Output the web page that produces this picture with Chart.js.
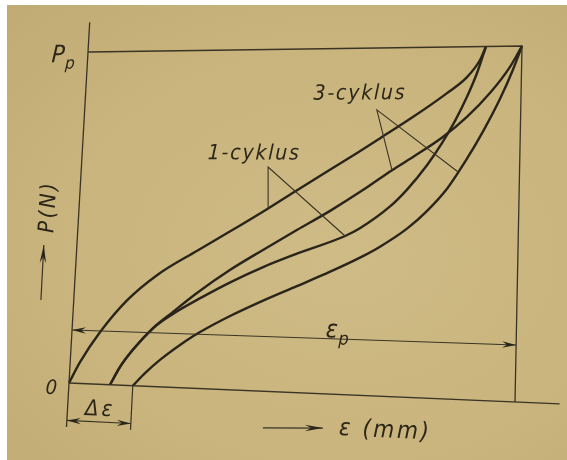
<!DOCTYPE html>
<html>
<head>
<meta charset="utf-8">
<script src="https://cdn.jsdelivr.net/npm/chart.js@4.4.1/dist/chart.umd.min.js"></script>
<style>
  html, body { margin: 0; padding: 0; background: #fff; }
  #wrap { position: relative; width: 567px; height: 460px; overflow: hidden; }
  #paper { position: absolute; left: 7px; top: 5px; right: 0; bottom: 0;
           background: radial-gradient(ellipse at 60% 55%, #cfbb86 0%, #c9b47d 60%, #c1ab74 100%); }
  #chart { position: absolute; left: 0; top: 0; }
</style>
</head>
<body>
<div id="wrap"><div id="paper"></div><canvas id="chart" width="567" height="460"></canvas></div>
<script>
// Hodnoty odčítané z obrázka: ε v % z εp, P v % z Pp
var epsP = 100, pP = 100, deltaEps = 14.3;

// 1. cyklus - zaťaženie a odľahčenie
var load1Eps = [0, 2.2, 6.3, 12.0, 18.7, 27.3, 34.6, 42.9, 49.4, 62.8, 67.9, 75.3, 83.0, 87.5, 90.4, 91.7];
var load1P   = [0, 6.4, 15.6, 25.4, 33.4, 40.7, 46.6, 53.4, 58.9, 69.8, 74.0, 80.1, 86.9, 91.4, 96.2, 100];
var unload1Eps = [91.7, 89.8, 87.6, 85.0, 82.1, 78.8, 74.4, 70.7, 64.0, 60.7, 49.9, 42.4, 35.1, 28.5, 22.5, 18.2, 13.9, 11.2, 9.2];
var unload1P   = [100, 92.6, 85.8, 79.0, 72.6, 66.3, 59.3, 54.5, 48.1, 45.8, 40.4, 36.3, 31.6, 26.7, 21.8, 17.4, 10.7, 5.4, 0];

// 3. cyklus
var load3Eps = [9.2, 11.2, 13.9, 18.2, 22.5, 27.7, 34.9, 42.2, 49.7, 57.1, 64.4, 70.9, 75.6, 82.3, 87.7, 92.9, 97.3, 100];
var load3P   = [0, 5.4, 10.7, 17.4, 22.4, 28.2, 35.2, 41.3, 47.3, 53.0, 59.1, 64.9, 68.7, 74.4, 80.1, 86.9, 94.1, 100];
var unload3Eps = [100, 98.0, 95.2, 91.5, 87.9, 83.6, 79.1, 74.7, 68.7, 64.9, 57.6, 50.2, 42.7, 35.4, 28.8, 26.0, 20.1, 16.9, 14.3];
var unload3P   = [100, 93.3, 85.2, 76.1, 68.2, 59.8, 53.3, 48.2, 42.9, 40.1, 35.4, 31.0, 26.5, 21.7, 16.7, 14.2, 8.0, 3.9, 0];

function pts(xs, ys) {
    return xs.map(function (x, i) { return { x: x, y: ys[i] }; });
}

var ink = '#2a251b';
var thin = '#3b3425';

function line(data, width, extra) {
    var ds = { data: data, showLine: true, borderColor: thin, borderWidth: width, pointRadius: 0, tension: 0 };
    for (var k in extra) ds[k] = extra[k];
    return ds;
}

function curve(data) {
    return { data: data, showLine: true, borderColor: ink, borderWidth: 2.4, pointRadius: 0,
             cubicInterpolationMode: 'monotone' };
}

var datasets = [
    // osi a rám
    line([{ x: 0, y: -13.3 }, { x: 0, y: 109 }], 1.3),
    line([{ x: 0, y: 0 }, { x: 110, y: 0 }], 1.3),
    line([{ x: 0, y: pP }, { x: epsP, y: pP }, { x: epsP, y: 0 }], 1.3),
    line([{ x: deltaEps, y: 0 }, { x: deltaEps, y: -13.2 }], 1.2),
    // kóty
    line([{ x: 0, y: 16 }, { x: epsP, y: 16 }], 1.1, { arrowHeads: 'both' }),
    line([{ x: 0, y: -11.3 }, { x: deltaEps, y: -11.3 }], 1.1, { arrowHeads: 'both' }),
    line([{ x: 43.8, y: -10.7 }, { x: 57.2, y: -9.9 }], 1.2, { arrowHeads: 'end', headLen: 18 }),
    line([{ x: -7.4, y: 24.8 }, { x: -7.5, y: 41.5 }], 1.2, { arrowHeads: 'end', headLen: 18 }),
    // odkazové čiary
    line([{ x: 43.0, y: 53.4 }, { x: 42.6, y: 65.6 }, { x: 60.7, y: 45.8 }], 1.1),
    line([{ x: 70.9, y: 64.9 }, { x: 67.0, y: 82.2 }, { x: 86.0, y: 64.5 }], 1.1),
    // krivky
    curve(pts(load1Eps, load1P)),
    curve(pts(unload1Eps, unload1P)),
    curve(pts(load3Eps, load3P)),
    curve(pts(unload3Eps, unload3P))
];

var labels = [
    { text: 'P', sub: 'p', x: -5.5, y: 98.9, size: 24, spacing: 1 },
    { text: '0', x: -3.9, y: -2.0, size: 20, spacing: 0 },
    { text: 'Δε', x: 7.3, y: -7.7, size: 22, spacing: 3 },
    { text: 'ε', sub: 'p', x: 59.8, y: 18.3, size: 25, spacing: 1 },
    { text: 'ε (mm)', x: 71.1, y: -9.9, size: 24, spacing: 2.5 },
    { text: 'P(N)', x: -6.8, y: 53.1, size: 22, spacing: 2.5, rotate: true },
    { text: '1-cyklus', x: 39.3, y: 69.4, size: 21, spacing: 1.8 },
    { text: '3-cyklus', x: 63.0, y: 86.8, size: 21, spacing: 1.8 }
];

function font(size) {
    return 'italic ' + size + 'px "DejaVu Sans Condensed", "DejaVu Sans", sans-serif';
}

// fotka je v perspektíve: kam padnú rohy rámu (0,0), (εp,0), (0,Pp), (εp,Pp)
var c00 = [69, 383], c10 = [515, 402], c01 = [88, 52], c11 = [522, 46];
var cD = [c11[0] - c10[0] - c01[0] + c00[0], c11[1] - c10[1] - c01[1] + c00[1]];

function frac(chart, px, py) {
    var sx = chart.scales.x, sy = chart.scales.y;
    var x0 = sx.getPixelForValue(0), y0 = sy.getPixelForValue(0);
    return [(px - x0) / (sx.getPixelForValue(epsP) - x0), (py - y0) / (sy.getPixelForValue(pP) - y0)];
}

function bilinear(u, v) {
    return [
        c00[0] + u * (c10[0] - c00[0]) + v * (c01[0] - c00[0]) + u * v * cD[0],
        c00[1] + u * (c10[1] - c00[1]) + v * (c01[1] - c00[1]) + u * v * cD[1]
    ];
}

var photo = {
    id: 'photo',
    afterDatasetsUpdate: function (chart) {
        chart.data.datasets.forEach(function (ds, i) {
            chart.getDatasetMeta(i).data.forEach(function (el) {
                var f = frac(chart, el.x, el.y);
                var p = bilinear(f[0], f[1]);
                el.x = p[0];
                el.y = p[1];
            });
        });
    },
    afterDatasetsDraw: function (chart) {
        var ctx = chart.ctx;
        var sx = chart.scales.x, sy = chart.scales.y;

        // šípky
        ctx.fillStyle = ink;
        chart.data.datasets.forEach(function (ds, i) {
            if (!ds.arrowHeads) return;
            var p = chart.getDatasetMeta(i).data;
            var len = ds.headLen || 14;
            head(ctx, p[p.length - 1], p[p.length - 2], len);
            if (ds.arrowHeads === 'both') head(ctx, p[0], p[1], len);
        });

        // texty
        ctx.fillStyle = '#2c2619';
        ctx.textBaseline = 'middle';
        labels.forEach(function (l) {
            var f = frac(chart, sx.getPixelForValue(l.x), sy.getPixelForValue(l.y));
            var p = bilinear(f[0], f[1]);
            var du = [c10[0] - c00[0] + f[1] * cD[0], c10[1] - c00[1] + f[1] * cD[1]];
            var dv = [c00[0] - c01[0] - f[0] * cD[0], c00[1] - c01[1] - f[0] * cD[1]];
            var nu = Math.hypot(du[0], du[1]), nv = Math.hypot(dv[0], dv[1]);
            ctx.save();
            ctx.transform(du[0] / nu, du[1] / nu, dv[0] / nv, dv[1] / nv, p[0], p[1]);
            if (l.rotate) ctx.rotate(-Math.PI / 2);
            ctx.letterSpacing = l.spacing + 'px';
            ctx.font = font(l.size);
            var w = ctx.measureText(l.text).width;
            var ws = 0, subSize = Math.round(l.size * 0.7);
            if (l.sub) {
                ctx.font = font(subSize);
                ws = ctx.measureText(l.sub).width;
            }
            var x0 = -(w + ws) / 2;
            ctx.textAlign = 'left';
            ctx.font = font(l.size);
            ctx.fillText(l.text, x0, 0);
            if (l.sub) {
                ctx.font = font(subSize);
                ctx.fillText(l.sub, x0 + w, l.size * 0.35);
            }
            ctx.restore();
        });
    }
};

function head(ctx, tip, from, len) {
    var a = Math.atan2(tip.y - from.y, tip.x - from.x);
    ctx.save();
    ctx.translate(tip.x, tip.y);
    ctx.rotate(a);
    ctx.beginPath();
    ctx.moveTo(0, 0);
    ctx.lineTo(-len, -3.2);
    ctx.lineTo(-len * 0.65, 0);
    ctx.lineTo(-len, 3.2);
    ctx.closePath();
    ctx.fill();
    ctx.restore();
}

var ctx = document.getElementById('chart').getContext('2d');
var chart = new Chart(ctx, {
    type: 'scatter',
    data: { datasets: datasets },
    options: {
        responsive: false,
        animation: false,
        devicePixelRatio: 1,
        events: [],
        layout: { padding: 0 },
        plugins: { legend: { display: false }, tooltip: { enabled: false } },
        scales: {
            x: { type: 'linear', min: -16.364, max: 112.5, display: false },
            y: { type: 'linear', min: -20.6, max: 113.32, display: false }
        }
    },
    plugins: [photo]
});
</script>
</body>
</html>
